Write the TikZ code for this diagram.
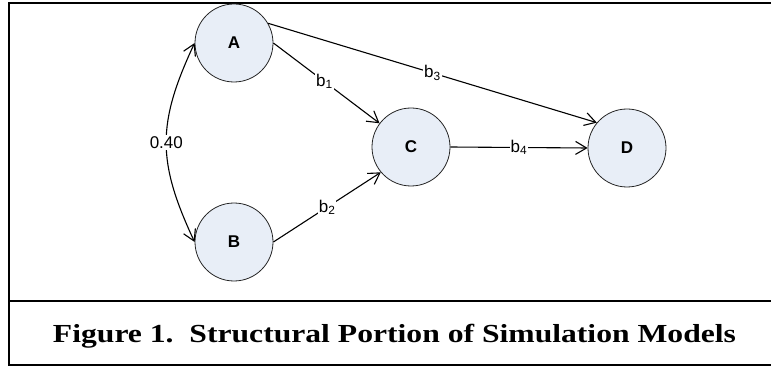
\documentclass[tikz,border=0pt]{standalone}
\usepackage{fontspec}
\setmainfont{Liberation Sans}
\newfontfamily\capfont{Liberation Serif}
\usetikzlibrary{arrows.meta}
\definecolor{nodefill}{RGB}{232,238,247}
\begin{document}
\begin{tikzpicture}[x=1pt,y=-1pt,
  var/.style={circle, draw=black!85, line width=0.8pt, fill=nodefill, minimum size=78pt, inner sep=0pt, font=\fontsize{17}{17}\selectfont\bfseries},
  conn/.style={line width=1.1pt, -{Straight Barb[length=11pt,width=13pt,line width=1.1pt]}},
  lab/.style={fill=white, inner sep=1pt, font=\fontsize{17}{17}\selectfont},
  frameline/.style={line width=2pt}]
\useasboundingbox (0,0) rectangle (771,366);
\draw[frameline] (776,3.5) -- (9,3.5) -- (9,364.5) -- (776,364.5);
\draw[frameline] (9,301) -- (776,301);
\node[var] (A) at (234,43) {A};
\node[var] (B) at (234,242) {B};
\node[var] (C) at (411,147) {C};
\node[var] (D) at (627,148) {D};
\draw[conn] (A.east) -- node[lab,pos=0.48]{b\textsubscript{1}} (C.143);
\draw[conn] (B.east) -- node[lab,pos=0.5]{b\textsubscript{2}} (C.220);
\draw[conn] (A.30) -- node[lab,pos=0.5]{b\textsubscript{3}} (D.140);
\draw[conn] (C.east) -- node[lab,pos=0.5]{b\textsubscript{4}} (D.west);
\draw[line width=1.1pt, {Straight Barb[length=11pt,width=13pt,line width=1.1pt]}-{Straight Barb[length=11pt,width=13pt,line width=1.1pt]}] (A.west) to[bend right=25, looseness=1.15] node[lab]{0.40} (B.west);
\node[font=\capfont\bfseries, anchor=base, inner sep=0pt] (cap) at (394.5,342) {\resizebox{683pt}{\height}{\fontsize{26}{26}\selectfont Figure 1.\ \ Structural Portion of Simulation Models}};
\end{tikzpicture}
\end{document}
